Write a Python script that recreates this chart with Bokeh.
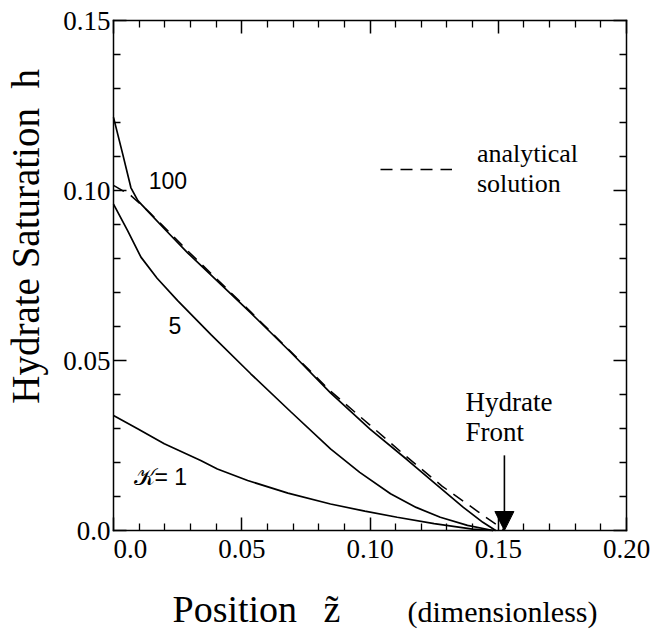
import math
from bokeh.plotting import figure
from bokeh.models import (LinearAxis, FixedTicker, Label, Arrow, NormalHead,
                          Legend, LegendItem, Range1d)
from bokeh.embed import file_html
from bokeh.resources import INLINE

# ---------------- data ----------------
# numerical solution, K = 100
z_k100 = [0.0, 0.0035, 0.0068, 0.0095, 0.0140, 0.0200, 0.0290, 0.0400, 0.0535,
          0.0690, 0.0846, 0.1000, 0.1145, 0.1260, 0.1364, 0.1440, 0.1490]
h_k100 = [0.1215, 0.1110, 0.1008, 0.0970, 0.0934, 0.0886, 0.0816, 0.0737, 0.0640,
          0.0525, 0.0405, 0.0298, 0.0208, 0.0134, 0.0068, 0.0024, 0.0]
# numerical solution, K = 5
z_k5 = [0.0, 0.0055, 0.0107, 0.0170, 0.0250, 0.0380, 0.0535, 0.0690, 0.0846,
        0.0960, 0.1080, 0.1180, 0.1274, 0.1380, 0.1480]
h_k5 = [0.0960, 0.0882, 0.0804, 0.0742, 0.0676, 0.0576, 0.0461, 0.0350, 0.0240,
        0.0171, 0.0108, 0.0068, 0.0039, 0.0015, 0.0]
# numerical solution, K = 1
z_k1 = [0.0, 0.0094, 0.0198, 0.0340, 0.0405, 0.0523, 0.0680, 0.0846, 0.0980,
        0.1106, 0.1250, 0.1400, 0.1480]
h_k1 = [0.0338, 0.0299, 0.0255, 0.0206, 0.0181, 0.0147, 0.0110, 0.0078, 0.0057,
        0.0039, 0.0020, 0.0004, 0.0]
# analytical solution (dashed)
z_ana = [0.0, 0.0068, 0.0140, 0.0290, 0.0535, 0.0846, 0.1000, 0.1138, 0.1282,
         0.1422, 0.1525]
h_ana = [0.1015, 0.0985, 0.0936, 0.0822, 0.0643, 0.0410, 0.0310, 0.0220, 0.0130,
         0.0055, 0.0]

curve_labels = ["100", "5", "\U0001D4A6= 1"]
curve_label_z = [0.0137, 0.0214, 0.0078]
curve_label_h = [0.1029, 0.0603, 0.0156]

front_z = 0.1524
front_arrow_top = 0.0221

x_major = [0.0, 0.05, 0.10, 0.15, 0.20]
x_major_labels = ["", "0.05", "0.10", "0.15", "0.20"]
x_zero_label = "0.0"
x_minor = [0.01, 0.02, 0.03, 0.04, 0.06, 0.07, 0.08, 0.09, 0.11, 0.12, 0.13, 0.14,
           0.16, 0.17, 0.18, 0.19]
y_major = [0.0, 0.05, 0.10, 0.15]
y_major_labels = ["0.0", "0.05", "0.10", "0.15"]
y_minor = [0.01, 0.02, 0.03, 0.04, 0.06, 0.07, 0.08, 0.09, 0.11, 0.12, 0.13, 0.14]

X0, X1 = 0.0, 0.20
Y0, Y1 = 0.0, 0.15

SERIF = "'Liberation Serif', 'Times New Roman', serif"
SANS = "'Liberation Sans', Arial, sans-serif"

# ---------------- layout: the frame fills the canvas, box drawn by axes -------------
W, H = 660, 630
BOX_L, BOX_R, BOX_T, BOX_B = 113, 626, 20, 530   # pixel edges of the axes box
sx = (BOX_R - BOX_L) / (X1 - X0)
sy = (BOX_B - BOX_T) / (Y1 - Y0)
x_range = Range1d(X0 - BOX_L / sx, X1 + (W - BOX_R) / sx)
y_range = Range1d(Y0 - (H - BOX_B) / sy, Y1 + BOX_T / sy)

p = figure(width=W, height=H, x_range=x_range, y_range=y_range,
           output_backend="svg", toolbar_location=None,
           min_border=0, min_border_left=0, min_border_right=0, min_border_top=0,
           min_border_bottom=0, x_axis_type=None, y_axis_type=None)
p.grid.visible = False
p.outline_line_color = None
p.background_fill_color = "white"
p.border_fill_color = "white"


def style_axis(ax, show_labels):
    ax.axis_line_color = "black"
    ax.axis_line_width = 1.5
    ax.axis_line_cap = "square"
    ax.major_tick_in = 13
    ax.major_tick_out = 0
    ax.minor_tick_in = 7
    ax.minor_tick_out = 0
    ax.major_tick_line_width = 1.5
    ax.minor_tick_line_width = 1.3
    ax.major_tick_line_color = "black"
    ax.minor_tick_line_color = "black"
    ax.major_label_text_font = SERIF
    ax.major_label_text_color = "black"
    if show_labels:
        ax.major_label_text_font_size = "27px"
        ax.major_label_standoff = 4
    else:
        ax.major_label_text_font_size = "0px"
        ax.major_label_standoff = 0


xt = FixedTicker(ticks=x_major, minor_ticks=x_minor)
yt = FixedTicker(ticks=y_major, minor_ticks=y_minor)

xb = LinearAxis(ticker=xt, fixed_location=Y0, bounds=(X0, X1),
                major_label_overrides=dict(zip(x_major, x_major_labels)))
style_axis(xb, True)
xb.major_label_standoff = 9
p.add_layout(xb, "below")
xa = LinearAxis(ticker=xt, fixed_location=Y1, bounds=(X0, X1),
                major_label_overrides={v: "" for v in x_major})
style_axis(xa, False)
p.add_layout(xa, "above")

yl = LinearAxis(ticker=yt, fixed_location=X0, bounds=(Y0, Y1),
                major_label_overrides=dict(zip(y_major, y_major_labels)))
style_axis(yl, True)
yl.major_label_standoff = 3
p.add_layout(yl, "left")
yr = LinearAxis(ticker=yt, fixed_location=X1, bounds=(Y0, Y1),
                major_label_overrides={v: "" for v in y_major})
style_axis(yr, False)
p.add_layout(yr, "right")

# curves
for zs, hs in [(z_k100, h_k100), (z_k5, h_k5), (z_k1, h_k1)]:
    p.line(zs, hs, line_color="black", line_width=1.7)
r_ana = p.line(z_ana, h_ana, line_color="black", line_width=1.5, line_dash="12 8")

legend = Legend(items=[LegendItem(label="analytical\nsolution", renderers=[r_ana])],
                location=(380, 431), label_text_font=SERIF, label_text_font_size="26px",
                label_text_color="black", glyph_width=72, glyph_height=20,
                label_standoff=25, padding=0, margin=0, border_line_alpha=0,
                background_fill_alpha=0, label_text_line_height=1.6)
p.add_layout(legend, "center")

for t, zx, hy in zip(curve_labels, curve_label_z, curve_label_h):
    p.add_layout(Label(x=zx, y=hy, text=t, text_font=SANS, text_font_size="23px",
                       text_color="black", text_align="left", text_baseline="alphabetic"))

# hydrate front arrow
p.add_layout(Arrow(end=NormalHead(size=19, fill_color="black", line_color="black"),
                   x_start=front_z, y_start=front_arrow_top, x_end=front_z, y_end=0.0,
                   line_color="black", line_width=1.6))
p.add_layout(Label(x=0.1372, y=0.0379, text="Hydrate", text_font=SERIF,
                   text_font_size="27px", text_color="black", text_align="left",
                   text_baseline="alphabetic"))
p.add_layout(Label(x=0.1372, y=0.0291, text="Front", text_font=SERIF,
                   text_font_size="27px", text_color="black", text_align="left",
                   text_baseline="alphabetic"))

# x tick label 0.0, shifted right of the corner as in the reference
p.add_layout(Label(x=X0, y=Y0, text=x_zero_label, text_font=SERIF, text_font_size="27px",
                   text_color="black", text_align="left", text_baseline="top",
                   y_offset=-9))

# axis titles
p.add_layout(Label(x=-0.0343, y=0.0865, text="Hydrate Saturation\u00a0 h", angle=math.pi / 2,
                   text_font=SERIF, text_font_size="39px", text_color="black",
                   text_align="center", text_baseline="middle"))
p.add_layout(Label(x=0.0230, y=-0.0230, text="Position", text_font=SERIF,
                   text_font_size="38px", text_color="black", text_align="left",
                   text_baseline="alphabetic"))
p.add_layout(Label(x=0.0819, y=-0.0230, text="z\u0303", text_font=SERIF,
                   text_font_size="38px", text_color="black", text_align="left",
                   text_baseline="alphabetic"))
p.add_layout(Label(x=0.1887, y=-0.0239, text="(dimensionless)", text_font=SERIF,
                   text_font_size="30px", text_color="black", text_align="right",
                   text_baseline="alphabetic"))

open("out.html", "w").write(file_html(p, INLINE))
